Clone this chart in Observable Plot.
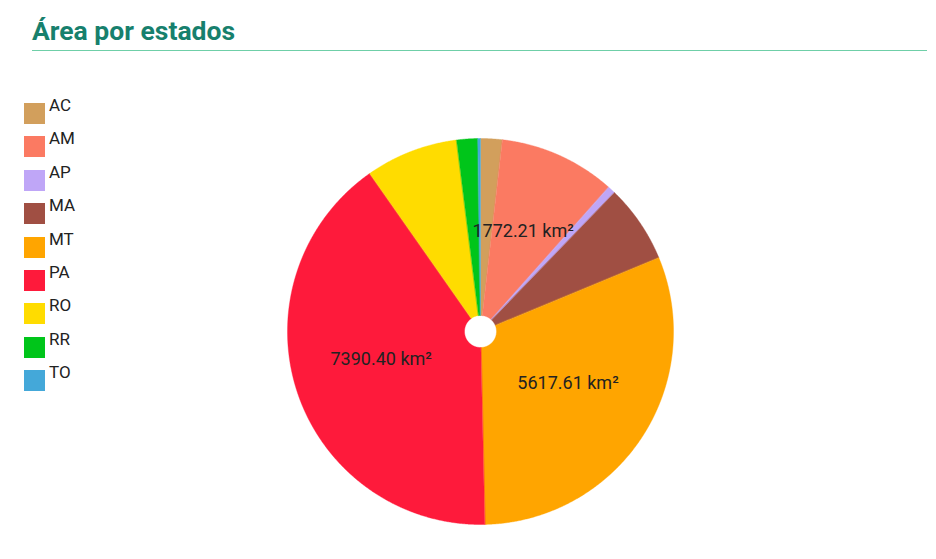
<!DOCTYPE html>
<html>
<head>
<meta charset="utf-8">
<script src="https://cdn.jsdelivr.net/npm/d3@7"></script>
<script src="https://cdn.jsdelivr.net/npm/@observablehq/plot@0.6"></script>
<style>
  html, body { margin: 0; padding: 0; background: #fff; }
  body { width: 936px; height: 559px; position: relative; overflow: hidden; font-family: Roboto, "Noto Sans", sans-serif; }
  #title { position: absolute; left: 32px; top: 16px; font-size: 26.5px; line-height: 30px; font-weight: 700; color: #17806d; white-space: nowrap; }
  #rule { position: absolute; left: 32px; top: 50px; width: 895px; height: 0; border-top: 1.5px solid #6fcfa8; }
  #legend { position: absolute; left: 0; top: 0; }
  .sw { position: absolute; left: 24px; width: 21px; height: 21px; }
  .lb { position: absolute; left: 49px; font-size: 17px; line-height: 20px; color: #222; }
  #chart { position: absolute; left: 270px; top: 121px; }
</style>
</head>
<body>
<div id="title">Área por estados</div>
<div id="rule"></div>
<div id="legend"></div>
<div id="chart"></div>
<script>
// Data
const states = ["AC", "AM", "AP", "MA", "MT", "PA", "RO", "RR", "TO"];
const areas = [330, 1772.21, 120, 1190, 5617.61, 7390.40, 1410, 320, 40];
const colors = ["#d29f5c", "#fb7a62", "#bfa6f7", "#a04f43", "#ffa500", "#fe1a3b", "#ffdc00", "#00c51a", "#44a8d9"];

// Legend
const legend = document.getElementById("legend");
states.forEach((s, i) => {
  const top = 103 + i * 33.4;
  const sw = document.createElement("div");
  sw.className = "sw";
  sw.style.top = top + "px";
  sw.style.background = colors[i];
  legend.appendChild(sw);
  const lb = document.createElement("div");
  lb.className = "lb";
  lb.style.top = (top - 8) + "px";
  lb.textContent = s;
  legend.appendChild(lb);
});

// Pie geometry
const data = states.map((s, i) => ({state: s, value: areas[i]}));
const total = d3.sum(areas);
const arcs = d3.pie().sort(null).value(d => d.value)(data);
const R = 193, R0 = 16;
const poly = arcs.flatMap(a => {
  const n = Math.max(2, Math.ceil((a.endAngle - a.startAngle) / 0.005));
  const pts = [];
  for (let k = 0; k <= n; k++) {
    const t = a.startAngle + (a.endAngle - a.startAngle) * k / n;
    pts.push({state: a.data.state, x: R * Math.sin(t), y: R * Math.cos(t)});
  }
  for (let k = n; k >= 0; k--) {
    const t = a.startAngle + (a.endAngle - a.startAngle) * k / n;
    pts.push({state: a.data.state, x: R0 * Math.sin(t), y: R0 * Math.cos(t)});
  }
  return pts;
});
const labels = arcs.filter(a => a.data.value / total >= 0.09).map(a => {
  const m = (a.startAngle + a.endAngle) / 2, rr = (R + R0) / 2;
  return {x: rr * Math.sin(m), y: rr * Math.cos(m), text: a.data.value.toFixed(2) + " km²"};
});

const chart = Plot.plot({
  width: 420,
  height: 420,
  margin: 0,
  x: {domain: [-210, 210], axis: null},
  y: {domain: [-210, 210], axis: null},
  color: {domain: states, range: colors},
  style: {fontFamily: "Roboto, 'Noto Sans', sans-serif", background: "transparent", overflow: "visible"},
  marks: [
    Plot.line(poly, {x: "x", y: "y", z: "state", fill: "state", stroke: "state", strokeWidth: 0.4, curve: "linear-closed"}),
    Plot.text(labels, {x: "x", y: "y", text: "text", fontSize: 18, fill: "#222", dy: -5})
  ]
});
document.getElementById("chart").appendChild(chart);
</script>
</body>
</html>
